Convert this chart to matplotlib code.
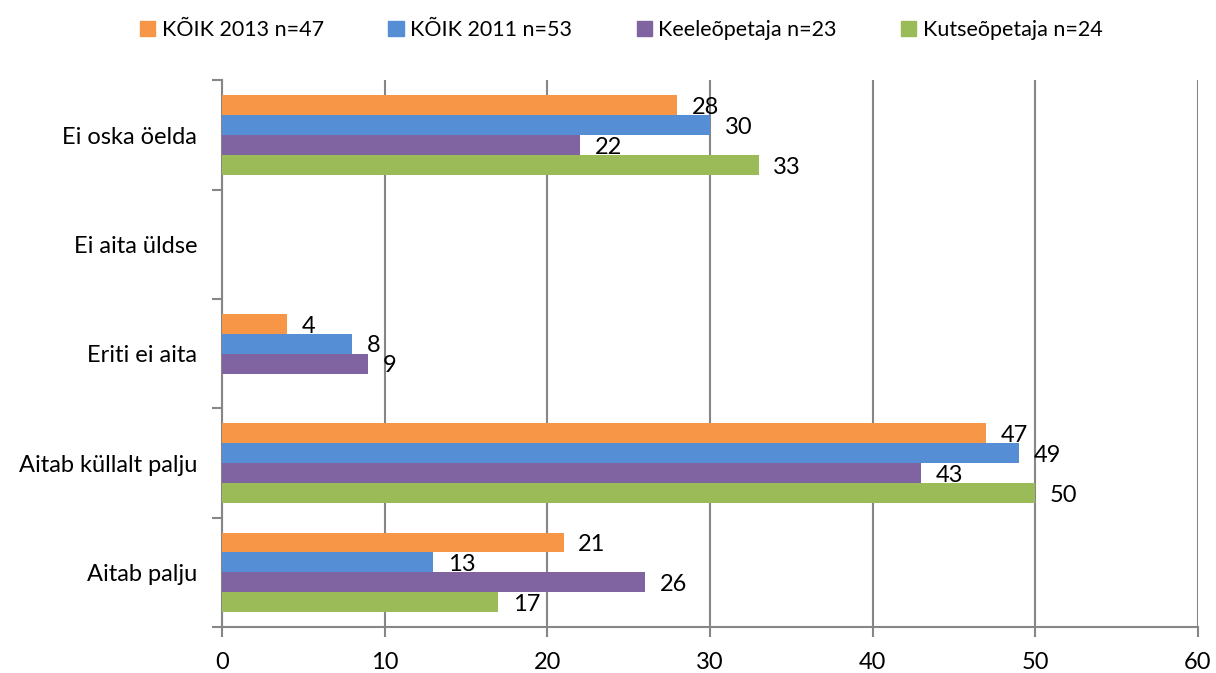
import numpy as np
import matplotlib.pyplot as plt
from matplotlib.patches import Patch

plt.rcParams['font.family'] = ['Lato', 'DejaVu Sans']

categories = ['Aitab palju', 'Aitab küllalt palju', 'Eriti ei aita', 'Ei aita üldse', 'Ei oska öelda']
series_names = ['KÕIK 2013 n=47', 'KÕIK 2011 n=53', 'Keeleõpetaja n=23', 'Kutseõpetaja n=24']
# None = no bar / no label
kovik_2013 = [21, 47, 4, None, 28]
kovik_2011 = [13, 49, 8, None, 30]
keeleopetaja = [26, 43, 9, None, 22]
kutseopetaja = [17, 50, None, None, 33]
series = [kovik_2013, kovik_2011, keeleopetaja, kutseopetaja]
colors = ['#F79646', '#558ED5', '#8064A2', '#9BBB59']

fig = plt.figure(figsize=(12.16, 6.73), dpi=100)
ax = fig.add_axes([0.1826, 0.0684, 0.8024, 0.812])

y = np.arange(len(categories))
h = 0.182
for i, (vals, col) in enumerate(zip(series, colors)):
    pos = y + (1.5 - i) * h
    for p, v in zip(pos, vals):
        if v is None:
            continue
        ax.barh(p, v, height=h, color=col, zorder=3)
        ax.text(v + 0.9, p - 0.02, str(v), ha='left', va='center', fontsize=17, zorder=4)

ax.set_xlim(0, 60)
ax.set_ylim(-0.5, len(categories) - 0.5)
ax.set_xticks(range(0, 61, 10))
ax.tick_params(axis='x', labelsize=17, length=7, width=1.5, color='#868686', pad=11, direction='out')
ax.set_yticks(y)
ax.set_yticklabels(categories, fontsize=17)
ax.set_yticks(np.arange(-0.5, len(categories), 1), minor=True)
ax.tick_params(axis='y', which='major', length=0, pad=18)
ax.tick_params(axis='y', which='minor', length=7, width=1.5, color='#868686')
ax.grid(axis='x', color='#868686', linewidth=1.5, zorder=0)
for s in ['top', 'right']:
    ax.spines[s].set_visible(False)
for s in ['left', 'bottom']:
    ax.spines[s].set_color('#868686')
    ax.spines[s].set_linewidth(1.5)

handles = [Patch(color=c) for c in colors]
fig.legend(handles, series_names, loc='center', bbox_to_anchor=(0.511, 0.955), ncol=4,
           frameon=False, fontsize=15.5, handlelength=0.7, handleheight=0.7,
           handletextpad=0.3, columnspacing=3.0)

fig.savefig('out.png', dpi=100)
